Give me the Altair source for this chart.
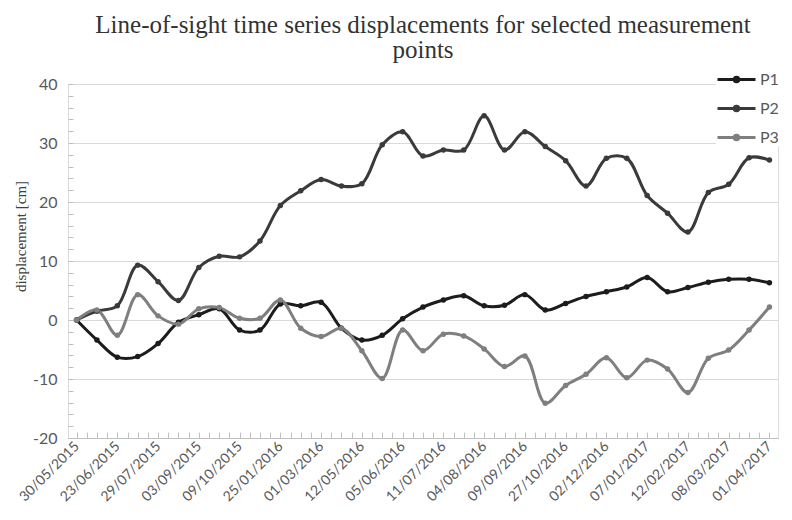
import altair as alt
import pandas as pd

# Tick labels (every second acquisition is labelled)
date_labels = ["30/05/2015", "23/06/2015", "29/07/2015", "03/09/2015", "09/10/2015",
               "25/01/2016", "01/03/2016", "12/05/2016", "05/06/2016", "11/07/2016",
               "04/08/2016", "09/09/2016", "27/10/2016", "02/12/2016", "07/01/2017",
               "12/02/2017", "08/03/2017", "01/04/2017"]

series_names = ["P1", "P2", "P3"]

p1 = [0, -3.4, -6.3, -6.2, -4.0, -0.4, 0.9, 1.9, -1.7, -1.7, 2.7, 2.4, 3.0, -1.4, -3.4,
      -2.6, 0.2, 2.2, 3.4, 4.1, 2.4, 2.5, 4.3, 1.7, 2.8, 4.0, 4.8, 5.6, 7.2, 4.8, 5.5,
      6.4, 6.9, 6.9, 6.3]
p2 = [0, 1.5, 2.4, 9.3, 6.5, 3.3, 8.9, 10.8, 10.7, 13.4, 19.4, 21.9, 23.8, 22.7, 23.1,
      29.7, 31.9, 27.8, 28.8, 28.8, 34.6, 28.8, 31.9, 29.4, 27.0, 22.7, 27.4, 27.4, 21.1,
      18.1, 14.9, 21.6, 23.0, 27.5, 27.1]
p3 = [0, 1.7, -2.6, 4.3, 0.7, -0.7, 1.9, 2.1, 0.3, 0.3, 3.4, -1.4, -2.8, -1.4, -5.2,
      -9.9, -1.7, -5.2, -2.4, -2.7, -4.9, -7.9, -6.1, -14.1, -11.1, -9.2, -6.4, -9.8,
      -6.8, -8.3, -12.3, -6.5, -5.1, -1.7, 2.2]

colors = ["#1c1c1c", "#3a3a3a", "#7f7f7f"]

rows = []
for name, vals in zip(series_names, [p1, p2, p3]):
    for i, v in enumerate(vals):
        rows.append({"idx": i, "series": name, "value": v})
df = pd.DataFrame(rows)

n = len(p1)
W, H = 710, 354
label_values = list(range(0, n, 2))
label_expr = "[" + ",".join("'%s'" % d for d in date_labels) + "][datum.value / 2]"

xscale = alt.Scale(domain=[-0.42, n - 1 + 0.42], nice=False, zero=False)
yscale = alt.Scale(domain=[-20, 40], nice=False)

LABEL_FONT = "Lato"
SERIF = "Liberation Serif"

x_main = alt.X("idx:Q", scale=xscale, title=None,
               axis=alt.Axis(values=label_values, labelExpr=label_expr, labelAngle=315,
                             labelAlign="right", labelBaseline="middle",
                             labelFont=LABEL_FONT, labelFontSize=14, labelColor="#595959",
                             labelPadding=6, grid=False, ticks=False,
                             domainColor="#bfbfbf", labelOverlap=False))
y_main = alt.Y("value:Q", scale=yscale, title="displacement [cm]",
               axis=alt.Axis(values=list(range(-20, 41, 10)), labelExpr="'' + datum.value",
                             grid=True, gridColor="#d9d9d9", gridWidth=1, ticks=False,
                             domainColor="#d9d9d9", labelFont=LABEL_FONT,
                             labelFontSize=16, labelColor="#595959", labelPadding=11,
                             titleFont=SERIF, titleFontSize=15, titleFontWeight="normal",
                             titleColor="#404040", titlePadding=4, titleY=152))

color = alt.Color("series:N", scale=alt.Scale(domain=series_names, range=colors),
                  legend=alt.Legend(title=None, orient="none", legendX=W - 62, legendY=-25,
                                    symbolType="M-1,0H1M-0.12,0A0.12,0.12,0,1,1,0.12,0A0.12,0.12,0,1,1,-0.12,0",
                                    symbolSize=1444, symbolStrokeWidth=3,
                                    labelFont=LABEL_FONT, labelFontSize=16,
                                    labelColor="#595959", labelOffset=3,
                                    rowPadding=0, fillColor="white", padding=0))

lines = alt.Chart(df).mark_line(
    interpolate="catmull-rom", strokeWidth=3,
    point=alt.OverlayMarkDef(filled=True, size=30, opacity=1),
).encode(x=x_main, y=y_main, color=color)

# inward minor ticks drawn via opposite-side axes shifted onto the plot edges
ticks_layer = alt.Chart(df).mark_point(opacity=0).encode(
    x=alt.X("idx:Q", scale=xscale,
            axis=alt.Axis(orient="top", offset=-H, values=[v / 2 for v in range(-1, 2 * n)],
                          labels=False, domain=False, tickColor="#bfbfbf", tickSize=6,
                          title=None, grid=False)),
    y=alt.Y("value:Q", scale=yscale,
            axis=alt.Axis(orient="right", offset=-W, values=list(range(-20, 41, 2)),
                          labels=False, domain=False, tickColor="#bfbfbf", tickSize=5,
                          title=None, grid=False)),
)

chart = alt.layer(lines, ticks_layer).resolve_axis(
    x="independent", y="independent"
).properties(
    width=W, height=H,
    title=alt.TitleParams(
        text=["Line-of-sight time series displacements for selected measurement", "points"],
        font=SERIF, fontSize=25, fontWeight="normal", color="#333333",
        anchor="middle", offset=-4, lineHeight=25),
).configure_view(stroke=None).configure(background="white")

chart.save("out.html", embed_options={"renderer": "svg", "actions": False})
